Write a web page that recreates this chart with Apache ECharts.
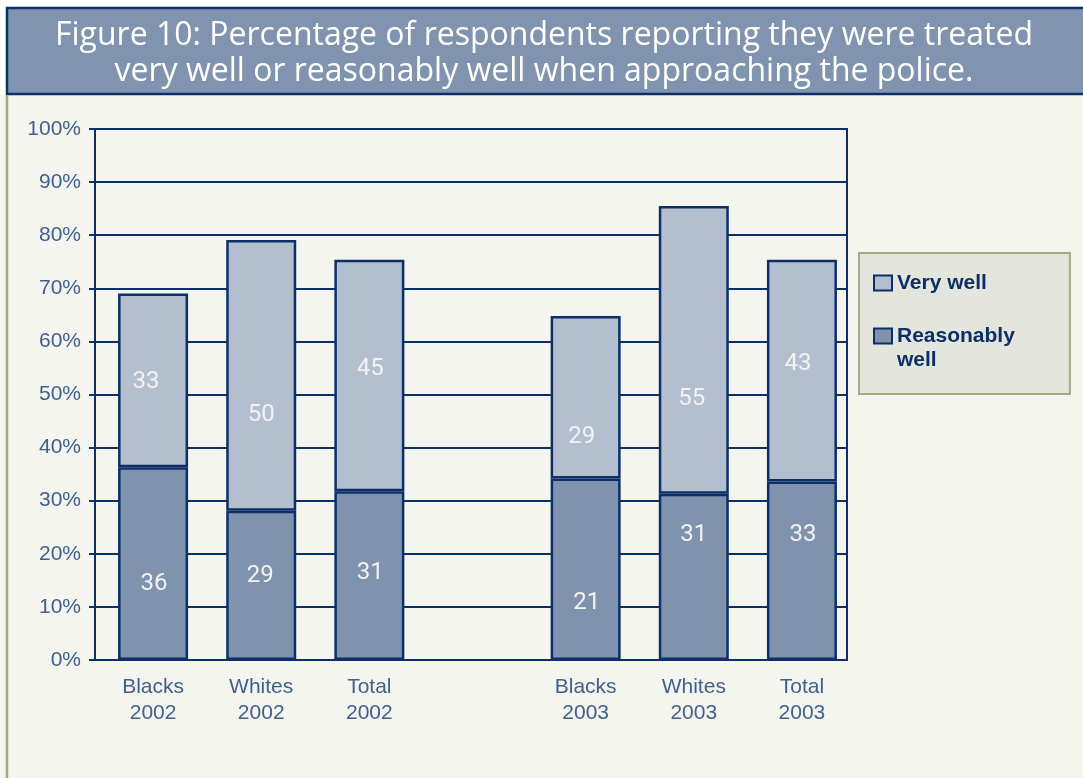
<!DOCTYPE html>
<html>
<head>
<meta charset="utf-8">
<style>
  html, body { margin: 0; padding: 0; background: #f5f5f0; }
  #chart { width: 1083px; height: 778px; }
</style>
<script src="https://cdn.jsdelivr.net/npm/echarts@6/dist/echarts.min.js"></script>
</head>
<body>
<div id="chart"></div>
<script>
// ---- data ----
const categories = ['Blacks\n2002', 'Whites\n2002', 'Total\n2002', '', 'Blacks\n2003', 'Whites\n2003', 'Total\n2003'];
const reasonablyWell = [36.3, 28.1, 31.8, null, 34.2, 31.3, 33.6];   // bar heights (%)
const veryWell       = [32.7, 51.0, 43.6, null, 30.6, 54.2, 41.8];   // bar heights (%)
const reasonablyLabels = ['36', '29', '31', '', '21', '31', '33'];  // printed labels
const veryLabels       = ['33', '50', '45', '', '29', '55', '43'];  // printed labels
const yTicks = [0, 10, 20, 30, 40, 50, 60, 70, 80, 90, 100];

// ---- layout / style constants ----
const NAVY = '#0b2f66';
const AXIS_TEXT = '#3f5f8f';
const reasonablyLabelOffsets = [[1, 20], [-1, -9], [1, -3], [0, 0], [1, 34], [0, -42], [1, -36]];
const veryLabelOffsets       = [[-7, 2], [0, 40], [1, -6], [0, 0], [-4, 40], [-2, 49], [-4, -7]];

function buildData(values, offsets) {
  return values.map((v, i) => ({ value: v, label: { offset: offsets[i] } }));
}

const chart = echarts.init(document.getElementById('chart'));
const labelFont = "'Liberation Sans Narrow', 'Roboto', sans-serif";

chart.setOption({
  backgroundColor: '#f5f5f0',
  animation: false,
  title: {
    text: 'Figure 10: Percentage of respondents reporting they were treated\nvery well or reasonably well when approaching the police.',
    left: 544,
    top: 18,
    padding: 0,
    textAlign: 'center',
    z: 10,
    textStyle: {
      color: '#ffffff',
      fontFamily: "'Open Sans', sans-serif",
      fontWeight: 'normal',
      fontSize: 32,
      lineHeight: 36
    }
  },
  graphic: [
    { type: 'rect', z: 0, shape: { x: 0, y: 0, width: 1083, height: 7 }, style: { fill: '#ffffff' } },
    { type: 'rect', z: 0, shape: { x: 0, y: 7, width: 6, height: 88 }, style: { fill: '#ffffff' } },
    { type: 'rect', z: 1, shape: { x: 7, y: 8, width: 1080, height: 86 }, style: { fill: '#8094b0', stroke: NAVY, lineWidth: 2.5 } },
    { type: 'line', z: 1, shape: { x1: 7, y1: 95, x2: 7, y2: 778 }, style: { stroke: '#a8a884', lineWidth: 2.5 } }
  ],
  legend: {
    orient: 'vertical',
    left: 859,
    top: 253,
    padding: [18, 55, 22, 14],
    itemGap: 5,
    itemWidth: 18,
    itemHeight: 15,
    icon: 'rect',
    backgroundColor: '#e4e5dc',
    borderColor: '#a8a884',
    borderWidth: 2,
    itemStyle: { borderColor: NAVY, borderWidth: 2 },
    textStyle: {
      color: NAVY,
      fontFamily: "'Liberation Sans', Arial, sans-serif",
      fontWeight: 'bold',
      fontSize: 21,
      lineHeight: 24
    },
    formatter: function (name) { return name === 'Reasonably well' ? ' \nReasonably\nwell' : name; },
    data: ['Very well', 'Reasonably well']
  },
  grid: [
    { left: 95, top: 129, width: 752, height: 531, show: true, borderColor: NAVY, borderWidth: 2, backgroundColor: 'transparent' },
    { left: 99, top: 129, width: 757, height: 531 }
  ],
  xAxis: [
    { type: 'value', gridIndex: 0, min: 0, max: 1, show: false },
    {
      type: 'category', gridIndex: 1, data: categories,
      axisLine: { show: false }, axisTick: { show: false },
      axisLabel: {
        interval: 0, margin: 14, color: AXIS_TEXT, fontSize: 21, lineHeight: 26,
        fontFamily: "'Liberation Sans', Arial, sans-serif"
      }
    }
  ],
  yAxis: [
    {
      type: 'value', gridIndex: 0, min: yTicks[0], max: yTicks[yTicks.length - 1], interval: 10,
      axisLine: { show: true, lineStyle: { color: NAVY, width: 2 } },
      axisTick: { show: true, length: 6, lineStyle: { color: NAVY, width: 2 } },
      splitLine: { show: true, lineStyle: { color: NAVY, width: 2 } },
      axisLabel: {
        formatter: '{value}%', margin: 14, color: AXIS_TEXT, fontSize: 21,
        fontFamily: "'Liberation Sans', Arial, sans-serif"
      }
    },
    { type: 'value', gridIndex: 1, min: 0, max: 100, show: false, splitLine: { show: false } }
  ],
  series: [
    {
      name: 'Reasonably well', type: 'bar', stack: 'total', xAxisIndex: 1, yAxisIndex: 1,
      barWidth: 70,
      itemStyle: { color: '#7f93ae', borderColor: NAVY, borderWidth: 2.5 },
      label: {
        show: true, position: 'inside', color: '#f2f2f2', fontSize: 24, fontFamily: labelFont,
        formatter: p => reasonablyLabels[p.dataIndex]
      },
      data: buildData(reasonablyWell, reasonablyLabelOffsets)
    },
    {
      name: 'Very well', type: 'bar', stack: 'total', xAxisIndex: 1, yAxisIndex: 1,
      barWidth: 70,
      itemStyle: { color: '#b3bfcf', borderColor: NAVY, borderWidth: 2.5 },
      label: {
        show: true, position: 'inside', color: '#f2f2f2', fontSize: 24, fontFamily: labelFont,
        formatter: p => veryLabels[p.dataIndex]
      },
      data: buildData(veryWell, veryLabelOffsets)
    }
  ]
});
</script>
</body>
</html>
